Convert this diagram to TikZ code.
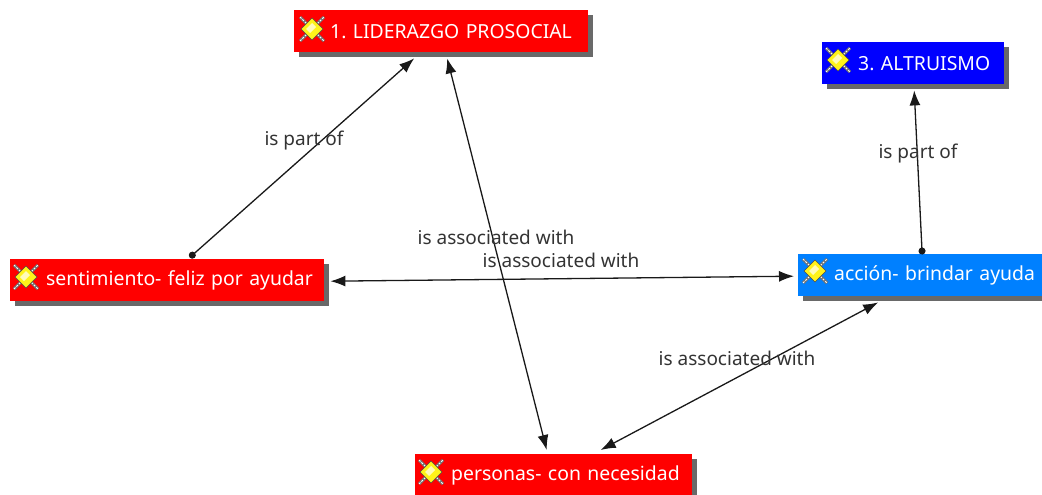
\documentclass[tikz,border=0pt]{standalone}
\usepackage{fontspec}
\setmainfont{Noto Sans}
\frenchspacing
\usetikzlibrary{shadows,arrows.meta}
\definecolor{azure}{HTML}{0080FF}
\tikzset{
  x=1pt,y=-1pt,
  conceptbox/.style={anchor=north west,inner sep=0pt,text width=#1,align=left,minimum height=42pt,
    text=white,font=\fontsize{19.4}{22}\selectfont,
    drop shadow={shadow xshift=5pt,shadow yshift=-5pt,fill=black!65,opacity=.9}},
  link/.style={draw=black!90,line width=1.3pt},
  bothheads/.style={{Latex[length=15pt,width=11pt]}-{Latex[length=15pt,width=11pt]}},
  dotstart/.style={{Circle[length=7pt]}-{Latex[length=15pt,width=11pt]}},
  linklabel/.style={text=black!80,font=\fontsize{19}{22}\selectfont,inner sep=0pt},
  sunicon/.pic={
    \draw[black!55,line width=3pt] (-12,-12)--(12,12) (-12,12)--(12,-12);
    \draw[white,line width=1pt,dash pattern=on 2pt off 1.5pt] (-12,-12)--(12,12) (-12,12)--(12,-12);
    \draw[black!70,line width=.6pt,fill=yellow!90!white] (-11,0)--(0,-11)--(11,0)--(0,11)--cycle;
    \fill[white,opacity=.7] (-6,0)--(0,-6)--(4,-2)--(-2,4)--cycle;
  }
}
\newcommand{\icongap}{\hspace*{36pt}}
\begin{document}
\begin{tikzpicture}
\useasboundingbox (0,0) rectangle (1042,495);
\node[conceptbox=294pt,fill=red] (lid) at (294,10) {\icongap 1. LIDERAZGO PROSOCIAL};
\node[conceptbox=182pt,fill=blue] (alt) at (822,42) {\icongap 3. ALTRUISMO};
\node[conceptbox=314pt,fill=red] (sen) at (10,259) {\icongap sentimiento- feliz por ayudar};
\node[conceptbox=250pt,fill=azure] (acc) at (798,254) {\icongap acción- brindar ayuda};
\node[conceptbox=277pt,fill=red] (per) at (415,454) {\icongap personas- con necesidad};
\pic at (312,29) {sunicon};
\pic at (838,60) {sunicon};
\pic at (26,277) {sunicon};
\pic at (815,271) {sunicon};
\pic at (431,472) {sunicon};
\draw[link,dotstart] ([xshift=22.5pt,yshift=1.5pt]sen.north) -- ([xshift=-27pt,yshift=-6pt]lid.south);
\draw[link,bothheads] ([xshift=6pt,yshift=-6pt]lid.south) -- ([xshift=-7pt,yshift=4pt]per.north);
\draw[link,bothheads] ([xshift=6pt,yshift=-1pt]sen.east) -- ([xshift=-4pt,yshift=-1pt]acc.west);
\draw[link,bothheads] ([xshift=-45pt,yshift=-6pt]acc.south) -- ([xshift=47pt,yshift=4pt]per.north);
\draw[link,dotstart] ([xshift=-1pt,yshift=-.5pt]acc.north) -- ([xshift=1pt,yshift=-6pt]alt.south);
\node[linklabel] (l1) at (304,141) {is part of};
\node[linklabel] (l2) at (918,154) {is part of};
\node[linklabel] (l3) at (496,237) {is associated with};
\node[linklabel] (l4) at (561,260) {is associated with};
\node[linklabel] (l5) at (737,358) {is associated with};
\end{tikzpicture}
\end{document}
